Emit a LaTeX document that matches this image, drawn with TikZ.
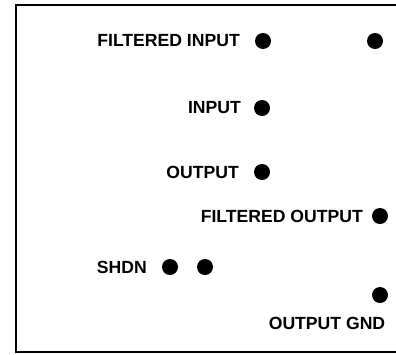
\documentclass[tikz,border=0pt]{standalone}
\usepackage{fontspec}
\setmainfont{Liberation Sans}
\usepackage{tikz}
\usetikzlibrary{positioning}

\begin{document}
\begin{tikzpicture}[
    x=1pt, y=-1pt,
    pin/.style={circle, fill=black, inner sep=0pt, minimum size=16pt},
    pinlabel/.style={anchor=east, inner sep=0pt, font=\fontsize{17.6}{20}\selectfont\bfseries},
    frame/.style={line width=2pt}
]
\useasboundingbox (0,0) rectangle (396,354);

% Board outline (right side runs off the picture)
\draw[frame] (396,5) -- (16,5) -- (16,352) -- (396,352);

% Pins
\node[pin] (fin) at (263,41) {};
\node[pin] (fin2) at (375,41) {};
\node[pin] (in) at (262,108) {};
\node[pin] (out) at (262,172) {};
\node[pin] (fout) at (380,216) {};
\node[pin] (shdn1) at (170,267) {};
\node[pin] (shdn2) at (205,267) {};
\node[pin] (gnd) at (380,295) {};

% Pin labels
\node[pinlabel] (finlbl) at (240,41) {FILTERED INPUT};
\node[pinlabel] (inlbl) at (241,108) {INPUT};
\node[pinlabel] (outlbl) at (239,172) {OUTPUT};
\node[pinlabel] (foutlbl) at (363,216) {FILTERED OUTPUT};
\node[pinlabel] (shdnlbl) at (147,267) {SHDN};
\node[pinlabel, anchor=center] (gndlbl) at (327,323) {OUTPUT GND};

\end{tikzpicture}
\end{document}
